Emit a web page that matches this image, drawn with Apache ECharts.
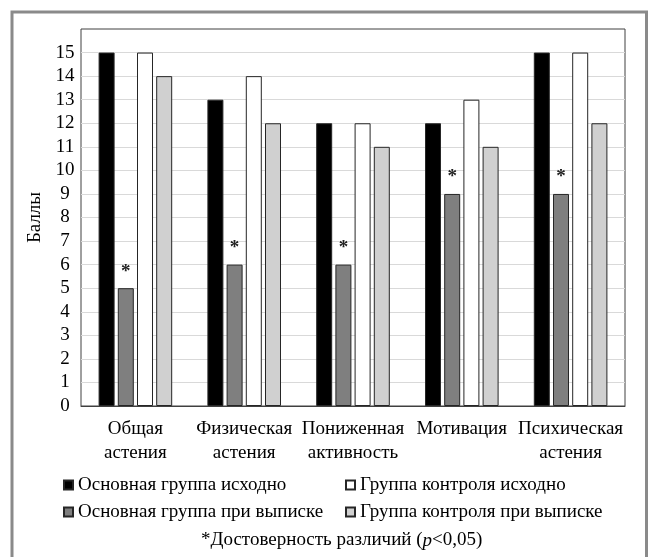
<!DOCTYPE html>
<html>
<head>
    <meta charset="utf-8">
    <script type="text/javascript" src="https://cdn.jsdelivr.net/npm/echarts@6/dist/echarts.min.js"></script>
    <title></title>
    <style>
        body { margin: 0; background: #fff; }
        #main { width: 649px; height: 557px; }
    </style>
</head>
<body>
<div id="main"></div>
<script type="text/javascript">
    // данные
    var categories = ['Общая\nастения', 'Физическая\nастения', 'Пониженная\nактивность', 'Мотивация', 'Психическая\nастения'];
    var seriesNames = ['Основная группа исходно', 'Основная группа при выписке', 'Группа контроля исходно', 'Группа контроля при выписке'];
    var mainBefore = [15, 13, 12, 12, 15];
    var mainAfter = [5, 6, 6, 9, 9];
    var ctrlBefore = [15, 14, 12, 13, 15];
    var ctrlAfter = [14, 12, 11, 11, 12];
    var footnote = '*Достоверность различий ({i|p}<0,05)';

    var font = "'Liberation Serif', 'Times New Roman', serif";
    var fills = ['#000000', '#7f7f7f', '#ffffff', '#d0d0d0'];
    var values = [mainBefore, mainAfter, ctrlBefore, ctrlAfter];

    var gridColors = [];
    for (var k = 0; k < 16; k++) gridColors.push('#d9d9d9');
    gridColors.push('rgba(0,0,0,0)');

    var series = [];
    for (var i = 0; i < 4; i++) {
        series.push({
            name: seriesNames[i],
            type: 'bar',
            data: values[i],
            barWidth: 16,
            barGap: '20%',
            itemStyle: { color: fills[i], borderColor: '#262626', borderWidth: 1 },
            label: i === 1 ? {
                show: true,
                position: 'top',
                distance: 7,
                formatter: '*',
                fontFamily: font,
                fontSize: 19,
                fontWeight: 'bold',
                color: '#222'
            } : { show: false }
        });
    }

    var legendText = { fontFamily: font, fontSize: 19, color: '#000', lineHeight: 22 };

    var myChart = echarts.init(document.getElementById('main'));
    var option = {
        animation: false,
        textStyle: { fontFamily: font, color: '#000' },
        title: {
            text: footnote,
            left: 201,
            top: 531,
            padding: 0,
            textStyle: {
                fontFamily: font, fontSize: 19, fontWeight: 'normal', color: '#000',
                rich: { i: { fontFamily: font, fontSize: 19, fontStyle: 'italic', color: '#000' } }
            }
        },
        legend: [{
            orient: 'vertical',
            left: 63,
            top: 474,
            padding: 0,
            itemWidth: 9,
            itemHeight: 9,
            itemGap: 5,
            icon: 'rect',
            data: [seriesNames[0], seriesNames[1]],
            textStyle: legendText
        }, {
            orient: 'vertical',
            left: 345,
            top: 474,
            padding: 0,
            itemWidth: 9,
            itemHeight: 9,
            itemGap: 5,
            icon: 'rect',
            data: [seriesNames[2], seriesNames[3]],
            textStyle: legendText
        }],
        grid: {
            left: 81, right: 24, top: 29, bottom: 151,
            show: true, borderColor: '#404040', borderWidth: 1
        },
        xAxis: {
            type: 'category',
            data: categories,
            axisLine: { lineStyle: { color: '#404040', width: 1 } },
            axisTick: { show: false },
            axisLabel: {
                interval: 0, margin: 11, fontFamily: font, fontSize: 19,
                color: '#000', lineHeight: 24
            }
        },
        yAxis: {
            type: 'value',
            min: 0, max: 16, interval: 1,
            name: 'Баллы',
            nameLocation: 'middle',
            nameGap: 33,
            nameTextStyle: { fontFamily: font, fontSize: 19, color: '#000' },
            axisLine: { show: false },
            axisTick: { show: false },
            splitLine: { lineStyle: { color: gridColors, width: 1 } },
            axisLabel: {
                align: 'center', margin: 16, fontFamily: font, fontSize: 19, color: '#000',
                formatter: function (v) { return v > 15 ? '' : String(v); }
            }
        },
        graphic: [{
            type: 'rect',
            silent: true,
            shape: { x: 12, y: 12, width: 634.5, height: 600 },
            style: { fill: 'none', stroke: '#8a8a8a', lineWidth: 3 }
        }],
        series: series
    };
    myChart.setOption(option);
</script>
</body>
</html>
